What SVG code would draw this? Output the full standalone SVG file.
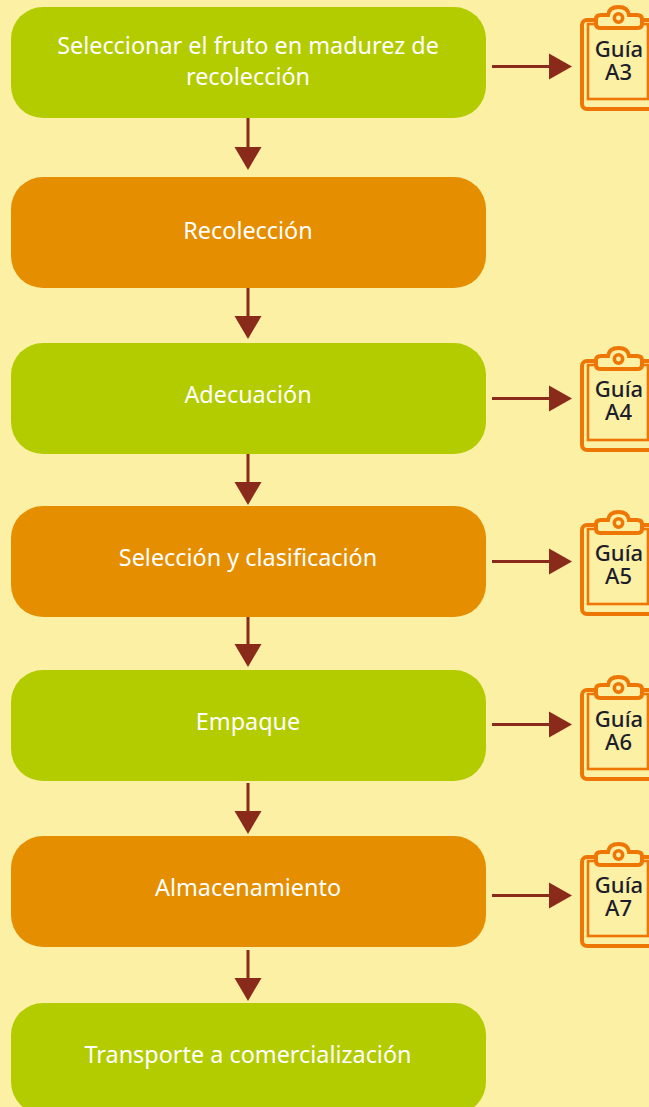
<svg xmlns="http://www.w3.org/2000/svg" width="649" height="1107" viewBox="0 0 649 1107">
<style>
.g{fill:#b3cc00}.o{fill:#e58e00}
.t{font-family:"Noto Sans","Open Sans",sans-serif;font-size:23.400px;fill:#fff;text-anchor:middle}
.l{font-family:"Noto Sans","Open Sans",sans-serif;font-size:22px;font-weight:500;fill:#1d1d2b;text-anchor:middle}
.c{fill:none;stroke:#ee7604}
.a{stroke:#8a2a1a;stroke-width:3;fill:none}
.h{fill:#8a2a1a}
</style>
<defs>
<g id="clip">
<rect class="c" stroke-width="4" x="582" y="20" width="90" height="89" rx="5"/>
<rect class="c" stroke-width="2.600" x="588" y="24" width="60" height="75"/>
<path d="M596 19q0-4 5-4h7q1-8 10.500-8t10.500 8h8q5 0 5 4v5q0 4-5 4h-36q-5 0-5-4z" fill="#fcf0a4" stroke="#ee7604" stroke-width="4"/>
<circle cx="618.500" cy="18" r="4.200" fill="none" stroke="#ee7604" stroke-width="3.500"/>
</g>
</defs>
<rect width="649" height="1107" fill="#fcf0a4"/>
<g id="connectors">
<path class="a" d="M248 118V150"/><path class="h" d="M234.500 147H261.500L248 170z"/>
<path class="a" d="M248 288V318"/><path class="h" d="M234.500 316H261.500L248 339z"/>
<path class="a" d="M248 454V484"/><path class="h" d="M234.500 482H261.500L248 505z"/>
<path class="a" d="M248 616V646"/><path class="h" d="M234.500 644H261.500L248 667z"/>
<path class="a" d="M248 783V813"/><path class="h" d="M234.500 811H261.500L248 834z"/>
<path class="a" d="M248 950V980"/><path class="h" d="M234.500 978H261.500L248 1001z"/>
<path class="a" d="M492 66.500H552"/><path class="h" d="M549 53.500V79.500L572 66.500z"/>
<path class="a" d="M492 398.500H552"/><path class="h" d="M549 385.500V411.500L572 398.500z"/>
<path class="a" d="M492 561.500H552"/><path class="h" d="M549 548.500V574.500L572 561.500z"/>
<path class="a" d="M492 724.500H552"/><path class="h" d="M549 711.500V737.500L572 724.500z"/>
<path class="a" d="M492 895.500H552"/><path class="h" d="M549 882.500V908.500L572 895.500z"/>
</g>
<g id="n1"><rect class="g" x="11" y="7" width="475" height="111" rx="32"/><text class="t" x="248" y="54">Seleccionar el fruto en madurez de<tspan x="248" dy="31">recolección</tspan></text></g>
<g id="n2"><rect class="o" x="11" y="177" width="475" height="111" rx="32"/><text class="t" x="248" y="239">Recolección</text></g>
<g id="n3"><rect class="g" x="11" y="343" width="475" height="111" rx="32"/><text class="t" x="248" y="403">Adecuación</text></g>
<g id="n4"><rect class="o" x="11" y="506" width="475" height="111" rx="32"/><text class="t" x="248" y="566">Selección y clasificación</text></g>
<g id="n5"><rect class="g" x="11" y="670" width="475" height="111" rx="32"/><text class="t" x="248" y="730">Empaque</text></g>
<g id="n6"><rect class="o" x="11" y="836" width="475" height="111" rx="32"/><text class="t" x="248" y="896">Almacenamiento</text></g>
<g id="n7"><rect class="g" x="11" y="1003" width="475" height="111" rx="32"/><text class="t" x="248" y="1063">Transporte a comercialización</text></g>
<g id="g3"><use href="#clip"/><text class="l" x="619" y="57">Guía<tspan x="618.500" dy="22.500">A3</tspan></text></g>
<g id="g4"><use href="#clip" y="341"/><text class="l" x="619" y="397">Guía<tspan x="618.500" dy="22.500">A4</tspan></text></g>
<g id="g5"><use href="#clip" y="505"/><text class="l" x="619" y="561">Guía<tspan x="618.500" dy="22.500">A5</tspan></text></g>
<g id="g6"><use href="#clip" y="670"/><text class="l" x="619" y="727">Guía<tspan x="618.500" dy="22.500">A6</tspan></text></g>
<g id="g7"><use href="#clip" y="837"/><text class="l" x="619" y="893">Guía<tspan x="618.500" dy="22.500">A7</tspan></text></g>
</svg>
